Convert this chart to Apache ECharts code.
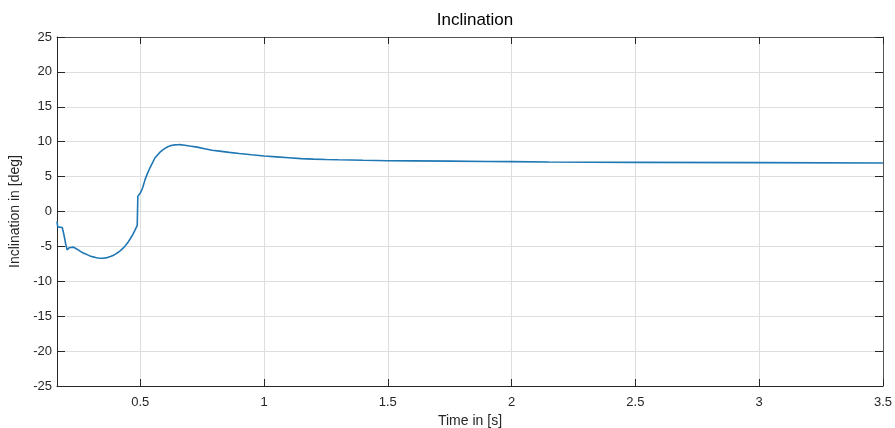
<!DOCTYPE html>
<html>
<head>
<meta charset="utf-8">
<title>Inclination</title>
<script src="https://cdn.jsdelivr.net/npm/echarts@6/dist/echarts.min.js"></script>
<style>
  html, body { margin: 0; padding: 0; background: #fff; }
  #chart { width: 895px; height: 428px; }
</style>
</head>
<body>
<div id="chart"></div>
<script>
// time [s] and inclination [deg]
const time = [0.164, 0.167, 0.172, 0.185, 0.19, 0.2, 0.205, 0.213, 0.22, 0.23,
  0.24, 0.25, 0.26, 0.27, 0.28, 0.29, 0.30, 0.31, 0.32, 0.33,
  0.34, 0.35, 0.36, 0.37, 0.38, 0.39, 0.40, 0.41, 0.42, 0.43,
  0.44, 0.45, 0.46, 0.47, 0.48, 0.488, 0.4905, 0.5, 0.51, 0.52,
  0.53, 0.54, 0.55, 0.56, 0.57, 0.58, 0.59, 0.60, 0.61, 0.62,
  0.63, 0.64, 0.65, 0.66, 0.68, 0.70, 0.73, 0.76, 0.79, 0.82,
  0.86, 0.9, 0.95, 1.0, 1.05, 1.1, 1.15, 1.2, 1.25, 1.3,
  1.35, 1.4, 1.5, 1.6, 1.75, 1.9, 2.0, 2.15, 2.5, 3.0, 3.5]
const inclination = [-1.4, -2.2, -2.3, -2.3, -3.0, -4.8, -5.5, -5.2, -4.95, -5.1,
  -5.3, -5.5, -5.75, -5.95, -6.1, -6.25, -6.4, -6.5, -6.6, -6.67,
  -6.7, -6.69, -6.65, -6.57, -6.45, -6.3, -6.1, -5.88, -5.6, -5.28,
  -4.9, -4.45, -3.9, -3.3, -2.6, -2.0, 2.2, 2.6, 3.4, 4.6,
  5.5, 6.3, 7.0, 7.7, 8.1, 8.5, 8.8, 9.05, 9.25, 9.4,
  9.5, 9.55, 9.57, 9.58, 9.5, 9.38, 9.22, 9.0, 8.78, 8.65,
  8.47, 8.3, 8.12, 7.95, 7.83, 7.7, 7.57, 7.5, 7.45, 7.41,
  7.38, 7.34, 7.28, 7.26, 7.22, 7.17, 7.14, 7.1, 7.04, 7.0, 6.95]

const xTicks = [0.5, 1, 1.5, 2, 2.5, 3, 3.5]

const font = "'Liberation Sans', Arial, sans-serif"
const textColor = '#262626'
const gridColor = '#dedede'

const chart = echarts.init(document.getElementById('chart'))

chart.setOption({
  animation: false,
  title: {
    text: 'Inclination',
    left: 470,
    textAlign: 'center',
    top: 7,
    textStyle: { fontFamily: font, fontSize: 17, fontWeight: 'normal', color: '#000' }
  },
  grid: { left: 57, right: 12, top: 37, bottom: 42, containLabel: false, outerBoundsMode: 'none' },
  xAxis: [{
    type: 'value',
    min: 0.164,
    max: 3.5,
    position: 'bottom',
    name: 'Time in [s]',
    nameLocation: 'middle',
    nameGap: 27,
    nameTextStyle: { fontFamily: font, fontSize: 14, color: textColor },
    axisLine: { show: true, onZero: false, lineStyle: { color: textColor, width: 1 } },
    axisTick: { show: true, inside: true, length: 7, customValues: xTicks, lineStyle: { color: textColor } },
    axisLabel: { customValues: xTicks, fontFamily: font, fontSize: 13, color: textColor, margin: 10 },
    splitLine: { show: true, lineStyle: { color: gridColor, width: 1 } }
  }, {
    type: 'value',
    min: 0.164,
    max: 3.5,
    position: 'top',
    axisLine: { show: true, onZero: false, lineStyle: { color: '#555', width: 1 } },
    axisTick: { show: true, inside: true, length: 7, customValues: xTicks, lineStyle: { color: textColor } },
    axisLabel: { show: false },
    splitLine: { show: false }
  }],
  yAxis: [{
    type: 'value',
    min: -25,
    max: 25,
    interval: 5,
    position: 'left',
    name: 'Inclination in [deg]',
    nameLocation: 'middle',
    nameGap: 32,
    nameRotate: 90,
    nameTextStyle: { fontFamily: font, fontSize: 14, color: textColor },
    axisLine: { show: true, onZero: false, lineStyle: { color: textColor, width: 1 } },
    axisTick: { show: true, inside: true, length: 8, lineStyle: { color: textColor } },
    axisLabel: { fontFamily: font, fontSize: 13, color: textColor, margin: 5 },
    splitLine: { show: true, lineStyle: { color: gridColor, width: 1 } }
  }, {
    type: 'value',
    min: -25,
    max: 25,
    interval: 5,
    position: 'right',
    axisLine: { show: true, onZero: false, lineStyle: { color: '#555', width: 1 } },
    axisTick: { show: true, inside: true, length: 8, lineStyle: { color: textColor } },
    axisLabel: { show: false },
    splitLine: { show: false }
  }],
  series: [{
    name: 'Inclination',
    type: 'line',
    xAxisIndex: 0,
    yAxisIndex: 0,
    data: time.map((t, i) => [t, inclination[i]]),
    showSymbol: false,
    smooth: false,
    lineStyle: { color: '#1f77b4', width: 1.6 }
  }]
})
</script>
</body>
</html>
